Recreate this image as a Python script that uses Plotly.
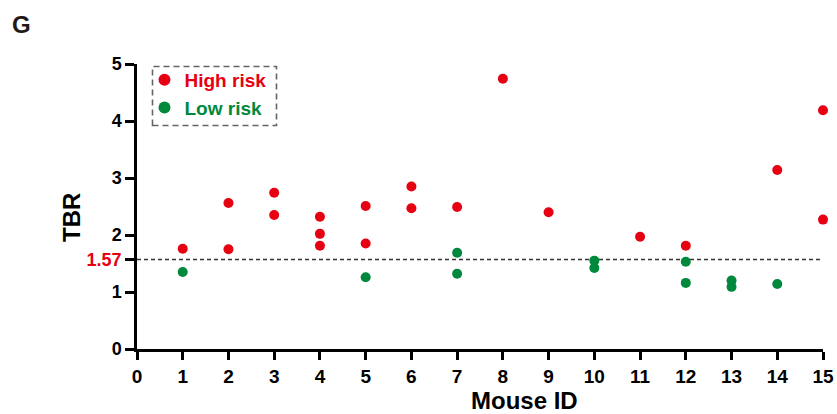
import plotly.graph_objects as go

# Data
high_x = [1, 2, 2, 3, 3, 4, 4, 4, 5, 5, 6, 6, 7, 8, 9, 11, 12, 14, 15, 15]
high_y = [1.76, 2.56, 1.75, 2.74, 2.35, 2.32, 2.02, 1.81, 2.51, 1.85, 2.85, 2.47,
          2.49, 4.74, 2.40, 1.97, 1.81, 3.14, 4.19, 2.27]
low_x = [1, 5, 7, 7, 10, 10, 12, 12, 13, 13, 14]
low_y = [1.35, 1.26, 1.69, 1.32, 1.55, 1.42, 1.53, 1.16, 1.20, 1.09, 1.14]
threshold = 1.57
x_ticks = list(range(0, 16))
y_ticks = [0, 1, 2, 3, 4, 5]

RED = "#E60012"
GREEN = "#00893C"
FONT = "Liberation Sans"

W, H = 837, 414
# plot area at page x 137..823, y 64..349
L, T, PW, PH = 137, 64, 686, 285


def px(x):
    return (x - L) / PW


def py(y):
    return (T + PH - y) / PH


fig = go.Figure()
fig.add_trace(go.Scatter(x=high_x, y=high_y, mode="markers",
                         name=f"<span style='color:{RED}'>High risk</span>",
                         marker=dict(color=RED, size=10), cliponaxis=False))
fig.add_trace(go.Scatter(x=low_x, y=low_y, mode="markers",
                         name=f"<span style='color:{GREEN}'>Low risk</span>",
                         marker=dict(color=GREEN, size=10), cliponaxis=False))

fig.add_shape(type="line", xref="x", yref="y", x0=0, x1=15, y0=threshold, y1=threshold,
              line=dict(color="#333333", width=1.3, dash="4px,3px"), layer="below")

yvals = y_ticks[:2] + [threshold] + y_ticks[2:]
ytext = ([str(v) for v in y_ticks[:2]] + [f"<span style='color:{RED}'>{threshold}</span>"]
         + [str(v) for v in y_ticks[2:]])

fig.update_layout(
    template="none",
    width=W, height=H,
    margin=dict(l=L, r=W - L - PW, t=T, b=H - T - PH, autoexpand=False),
    paper_bgcolor="white", plot_bgcolor="white",
    font=dict(family=FONT, color="black"),
    showlegend=True,
    legend=dict(x=px(144.5), y=py(61), xanchor="left", yanchor="top",
                font=dict(size=19, family=FONT, weight="bold"),
                bgcolor="rgba(0,0,0,0)", borderwidth=0,
                itemsizing="constant", tracegroupgap=0),
    xaxis=dict(range=[0, 15], tickvals=x_ticks, ticktext=[str(v) for v in x_ticks],
               automargin=False,
               showgrid=False, zeroline=False, showline=True, linecolor="black", linewidth=2.5,
               ticks="outside", ticklen=8, tickwidth=2.5, tickcolor="black",
               tickfont=dict(size=19, family=FONT, weight="bold"), fixedrange=True),
    yaxis=dict(range=[0, 5], tickvals=yvals, ticktext=ytext,
               automargin=False,
               showgrid=False, zeroline=False, showline=True, linecolor="black", linewidth=2.5,
               ticks="outside", ticklen=9, tickwidth=2.5, tickcolor="black",
               tickfont=dict(size=18, family=FONT, weight="bold"), fixedrange=True),
)

fig.add_shape(type="rect", xref="paper", yref="paper",
              x0=px(152.5), x1=px(276.5), y0=py(125.5), y1=py(66.5),
              line=dict(color="#666464", width=1.6, dash="6px,4px"))

fig.add_annotation(text="G", xref="paper", yref="paper", x=px(21), y=py(24),
                   xanchor="center", yanchor="middle", showarrow=False,
                   font=dict(size=24, family=FONT, weight="bold", color="#231815"))
fig.add_annotation(text="TBR", xref="paper", yref="paper", x=px(71), y=py(218),
                   xanchor="center", yanchor="middle", showarrow=False, textangle=-90,
                   font=dict(size=24, family=FONT, weight="bold"))
fig.add_annotation(text="Mouse ID", xref="paper", yref="paper", x=px(524), y=py(400),
                   xanchor="center", yanchor="middle", showarrow=False,
                   font=dict(size=24, family=FONT, weight="bold"))

fig.write_html(
    "out.html",
    config={"displayModeBar": False},
    post_script="document.body.style.margin='0';document.body.style.overflow='hidden';",
)
